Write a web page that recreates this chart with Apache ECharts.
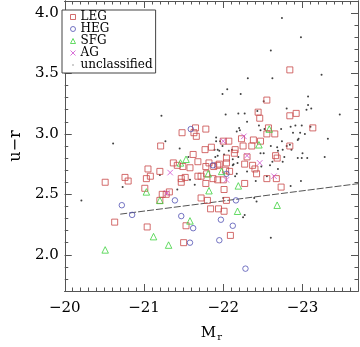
<!DOCTYPE html>
<html>
<head>
<meta charset="utf-8">
<script src="https://cdn.jsdelivr.net/npm/echarts@6/dist/echarts.min.js"></script>
<style>
html, body { margin: 0; padding: 0; background: #fff; }
#chart { width: 360px; height: 347px; }
</style>
</head>
<body>
<div id="chart"></div>
<script>
// points are [M_r, u-r]
const leg = [
  [-20.51, 2.60], [-20.63, 2.27], [-20.76, 2.64], [-20.80, 2.61], [-21.01, 2.55], [-21.03, 2.63],
  [-21.08, 2.65], [-21.05, 2.71], [-21.04, 2.23], [-21.20, 2.45], [-21.20, 2.69], [-21.21, 2.90],
  [-21.23, 2.50], [-21.28, 2.50], [-21.32, 2.52], [-21.37, 2.76], [-21.42, 2.74], [-21.49, 2.73],
  [-21.47, 2.63], [-21.47, 2.60], [-21.52, 2.64], [-21.50, 2.10], [-21.53, 2.24], [-21.48, 3.01],
  [-21.58, 2.72], [-21.62, 2.83], [-21.65, 3.05], [-21.63, 3.01], [-21.66, 2.98], [-21.68, 2.77],
  [-21.68, 2.65], [-21.72, 2.65], [-21.72, 2.47], [-21.77, 2.87], [-21.78, 3.04], [-21.78, 2.73],
  [-21.79, 2.67], [-21.78, 2.59], [-21.82, 2.76], [-21.85, 2.89], [-21.87, 2.63], [-21.88, 2.73],
  [-21.80, 2.45], [-21.84, 2.38], [-21.94, 2.38], [-22.01, 2.36], [-22.01, 2.54], [-22.04, 2.45],
  [-22.09, 2.16], [-21.93, 2.74], [-21.95, 2.75], [-22.03, 2.70], [-22.08, 2.69], [-21.93, 2.62],
  [-22.00, 2.62], [-22.27, 2.75], [-22.37, 2.74], [-22.40, 2.71], [-22.42, 2.67], [-22.55, 2.63],
  [-22.73, 2.56], [-22.27, 2.59], [-22.67, 2.63], [-22.04, 2.80], [-22.04, 2.76], [-22.07, 2.94],
  [-22.00, 2.94], [-22.15, 2.87], [-22.14, 2.84], [-22.23, 2.96], [-22.25, 2.90], [-22.30, 2.81],
  [-22.36, 2.90], [-22.38, 2.95], [-22.47, 2.94], [-22.44, 3.18], [-22.46, 3.13], [-22.55, 3.28],
  [-22.57, 3.05], [-22.55, 3.00], [-22.65, 3.00], [-22.66, 2.82], [-22.68, 2.80], [-22.84, 3.53],
  [-22.84, 3.15], [-22.92, 3.17], [-23.13, 3.05], [-22.84, 2.90]
]
const heg = [
  [-20.72, 2.41], [-20.85, 2.33], [-21.39, 2.45], [-21.47, 2.32], [-21.59, 3.04], [-21.62, 2.22],
  [-21.58, 2.10], [-21.87, 2.74], [-21.97, 2.29], [-22.12, 2.24], [-21.95, 2.12], [-22.28, 1.885],
  [-22.16, 2.45], [-22.04, 2.67]
]
const sfg = [
  [-20.51, 2.04], [-21.03, 2.52], [-21.12, 2.15], [-21.20, 2.45], [-21.31, 2.08], [-21.46, 2.76],
  [-21.53, 2.79], [-21.58, 2.28], [-21.81, 2.67], [-21.82, 2.53], [-21.98, 2.69], [-22.19, 2.57],
  [-22.18, 2.36], [-22.68, 2.41], [-22.58, 3.04], [-22.45, 2.91]
]
const ag = [
  [-21.33, 2.68], [-21.29, 2.51], [-22.00, 2.94], [-22.26, 2.98], [-22.30, 2.82], [-22.04, 2.62],
  [-22.46, 2.76], [-22.64, 2.65]
]
const unclassified = [
  [-20.21, 2.45], [-20.61, 2.92], [-20.73, 2.56], [-21.22, 3.15], [-21.27, 2.94], [-21.45, 2.88],
  [-21.42, 2.54], [-21.56, 2.81], [-21.64, 2.58], [-21.89, 2.87], [-21.93, 2.87], [-21.91, 2.97],
  [-21.91, 2.94], [-21.90, 2.81], [-22.00, 2.47], [-21.99, 3.33], [-22.05, 3.37], [-22.22, 3.33],
  [-22.31, 3.46], [-22.62, 3.46], [-22.60, 3.69], [-22.74, 3.96], [-22.98, 3.80], [-23.24, 3.49],
  [-23.07, 3.31], [-22.51, 3.27], [-23.07, 3.24], [-22.80, 3.21], [-23.05, 3.20], [-23.11, 3.21],
  [-23.47, 3.16], [-22.03, 3.16], [-22.19, 3.17], [-22.27, 3.17], [-22.43, 3.19], [-22.20, 3.05],
  [-22.21, 3.03], [-22.17, 3.02], [-22.47, 3.03], [-22.52, 3.04], [-22.85, 3.06], [-22.91, 3.07],
  [-22.99, 3.07], [-23.10, 3.06], [-22.88, 3.01], [-22.97, 3.01], [-22.95, 2.96], [-22.94, 2.95],
  [-23.32, 2.96], [-22.74, 2.94], [-22.80, 2.90], [-22.86, 2.87], [-23.00, 2.84], [-22.99, 2.80],
  [-23.06, 2.80], [-22.94, 2.80], [-23.28, 2.81], [-22.75, 2.77], [-22.98, 2.61], [-22.85, 2.57],
  [-22.68, 2.89], [-22.60, 2.14], [-22.25, 2.31], [-22.27, 2.33], [-22.39, 2.47], [-22.42, 2.44],
  [-21.96, 2.94], [-21.99, 2.90], [-22.07, 2.86], [-22.11, 2.87], [-22.60, 2.90], [-22.75, 2.87],
  [-22.69, 2.86], [-21.95, 2.86], [-21.93, 2.82], [-22.01, 2.83], [-22.12, 2.79], [-22.19, 2.81],
  [-22.13, 2.75], [-22.18, 2.76], [-22.51, 2.84], [-22.62, 2.77], [-22.15, 2.65], [-22.17, 2.67],
  [-22.41, 2.61], [-22.55, 2.65], [-22.69, 2.71], [-22.59, 2.74], [-22.48, 2.73], [-22.12, 2.74],
  [-21.20, 2.66], [-21.58, 2.62], [-22.30, 3.10], [-22.45, 3.07], [-22.73, 3.04], [-23.03, 3.00],
  [-22.30, 2.69], [-22.47, 2.84], [-22.77, 2.81], [-22.84, 2.91]
]
// dividing line
const fitLine = [[-20.70, 2.336], [-23.70, 2.588]]

const xTicks = [-20, -21, -22, -23]
const yTicks = [2.0, 2.5, 3.0, 3.5, 4.0]

const FONT = "'DejaVu Serif', serif"
const frame = '#555'
const X_MIN = -23.7, X_MAX = -20, Y_MIN = 1.7, Y_MAX = 4.1

const cLEG = '#c84848'
const cHEG = '#5252b4'
const cSFG = '#3ed23e'
const cAG = '#d050d0'
const cDot = '#111'
const xShape = 'path://M0,0L10,10M10,0L0,10'

function xAxis(pos, major) {
  const a = {
    type: 'value', position: pos, min: X_MIN, max: X_MAX, inverse: true,
    axisLine: { show: true, onZero: false, lineStyle: { color: frame, width: 1 } },
    axisTick: { show: true, inside: true, length: major ? 7 : 3.5, lineStyle: { color: frame } },
    axisLabel: { show: false },
    splitLine: { show: false }
  }
  if (major) {
    a.axisTick.customValues = xTicks
    if (pos === 'bottom') {
      a.axisLabel = {
        show: true, customValues: xTicks, margin: 10,
        fontFamily: FONT, fontSize: 15, color: '#000',
        formatter: v => '\u2212' + Math.abs(v)
      }
      a.name = '{m|M}{s|r}'
      a.nameLocation = 'middle'
      a.nameGap = 34
      a.nameTextStyle = {
        color: '#000',
        rich: {
          m: { fontFamily: FONT, fontSize: 15, color: '#000', lineHeight: 16 },
          s: { fontFamily: FONT, fontSize: 10, color: '#000', lineHeight: 16, padding: [8, 0, 0, 1] }
        }
      }
    }
  } else {
    a.interval = 0.1
  }
  return a
}

function yAxis(pos, major) {
  const a = {
    type: 'value', position: pos, min: Y_MIN, max: Y_MAX,
    axisLine: { show: true, onZero: false, lineStyle: { color: frame, width: 1 } },
    axisTick: { show: true, inside: true, length: major ? 7 : 3.5, lineStyle: { color: frame } },
    axisLabel: { show: false },
    splitLine: { show: false }
  }
  if (major) {
    a.axisTick.customValues = yTicks
    if (pos === 'left') {
      a.axisLabel = {
        show: true, customValues: yTicks, margin: 6,
        fontFamily: FONT, fontSize: 15, color: '#000',
        formatter: v => v.toFixed(1)
      }
      a.name = 'u\u2212r'
      a.nameLocation = 'middle'
      a.nameGap = 34
      a.nameTextStyle = { fontFamily: FONT, fontSize: 16, color: '#000' }
    }
  } else {
    a.interval = 0.1
  }
  return a
}

function pts(name, data, symbol, size, color, filled) {
  return {
    name, type: 'scatter', data, symbol, symbolSize: size,
    xAxisIndex: 0, yAxisIndex: 0, silent: true, animation: false,
    itemStyle: filled
      ? { color: color }
      : { color: 'none', borderColor: color, borderWidth: 1 }
  }
}

const chart = echarts.init(document.getElementById('chart'), null, { renderer: 'canvas' })
chart.setOption({
  backgroundColor: '#fff',
  animation: false,
  grid: { left: 55, right: 2, top: 1, bottom: 49, containLabel: false },
  xAxis: [xAxis('bottom', true), xAxis('bottom', false), xAxis('top', true), xAxis('top', false)],
  yAxis: [yAxis('left', true), yAxis('left', false), yAxis('right', true), yAxis('right', false)],
  legend: {
    orient: 'vertical', left: 62, top: 10,
    padding: [1, 3, 2, 6], itemGap: 0, itemWidth: 5, itemHeight: 5,
    backgroundColor: '#fff', borderColor: '#444', borderWidth: 1, borderRadius: 0,
    textStyle: { fontFamily: FONT, fontSize: 12, color: '#000', lineHeight: 11.25, padding: [0, 0, 0, 0] },
    data: [
      { name: 'LEG', icon: 'rect', itemStyle: { color: 'none', borderColor: cLEG, borderWidth: 1 } },
      { name: 'HEG', icon: 'circle', itemStyle: { color: 'none', borderColor: cHEG, borderWidth: 1 } },
      { name: 'SFG', icon: 'triangle', itemStyle: { color: 'none', borderColor: cSFG, borderWidth: 1 } },
      { name: 'AG', icon: xShape, itemStyle: { color: 'none', borderColor: cAG, borderWidth: 1 } },
      { name: 'unclassified', icon: 'path://M0,0M10,10M4,4h2v2h-2z', itemStyle: { color: cDot, borderWidth: 0 } }
    ]
  },
  series: [
    {
      name: 'fit', type: 'line', data: fitLine, symbol: 'none', silent: true,
      lineStyle: { color: '#555', width: 1, type: [7, 2] }, z: 1
    },
    pts('unclassified', unclassified, 'circle', 2, cDot, true),
    pts('LEG', leg, 'rect', 6, cLEG, false),
    pts('HEG', heg, 'circle', 5.5, cHEG, false),
    pts('SFG', sfg, 'triangle', 6.5, cSFG, false),
    pts('AG', ag, xShape, 5.5, cAG, false)
  ]
})
</script>
</body>
</html>
